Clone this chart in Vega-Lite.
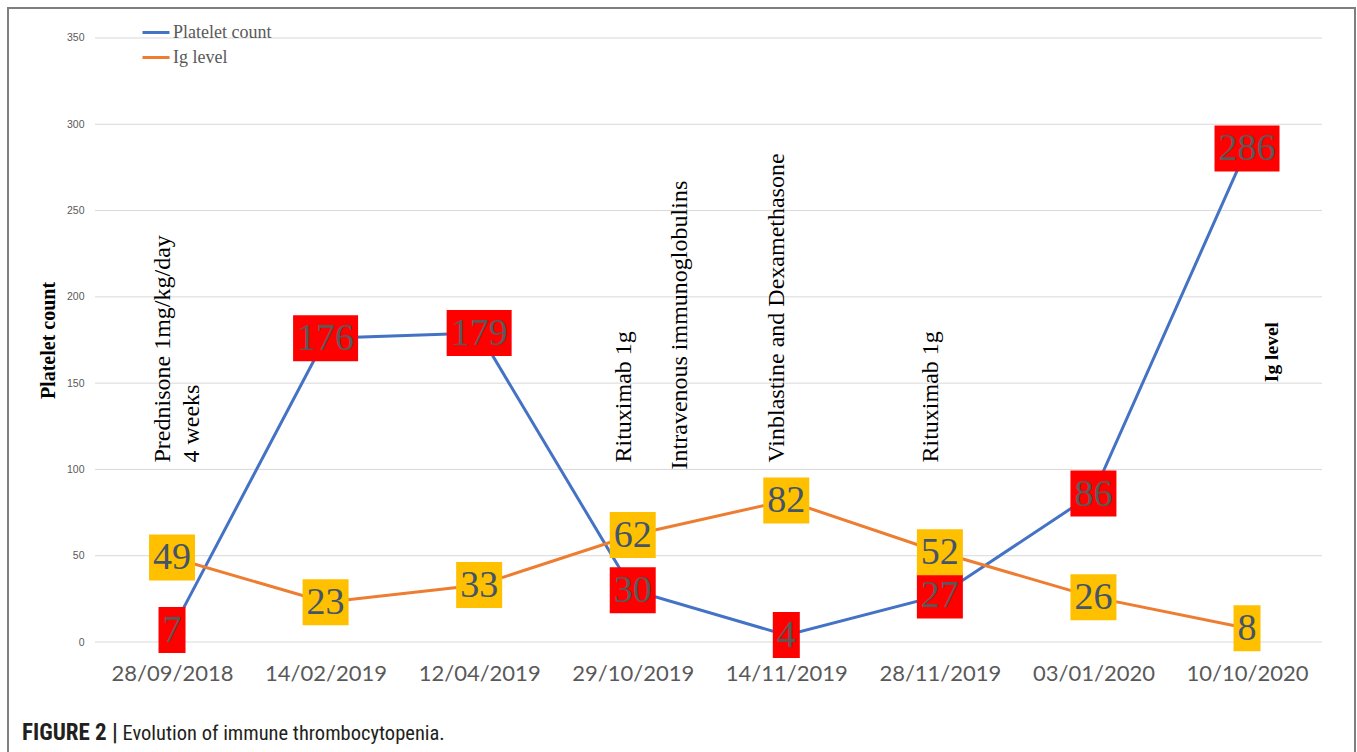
{
  "$schema": "https://vega.github.io/schema/vega-lite/v6.json",
  "width": 1347,
  "height": 760,
  "autosize": {"type": "none"},
  "padding": {"left": 8, "top": 8, "right": 2, "bottom": 0},
  "background": "white",
  "title": {
    "text": "FIGURE 2 |",
    "orient": "bottom",
    "anchor": "start",
    "frame": "group",
    "font": "Liberation Sans Narrow, Arial Narrow, Roboto Condensed, Liberation Sans",
    "fontSize": 23,
    "fontWeight": "bold",
    "color": "#231f20",
    "offset": 0,
    "baseline": "alphabetic",
    "dx": 14,
    "dy": -28.5
  },
  "datasets": {
    "series": [
      {"date": "28/09/2018", "series": "Platelet count", "value": 7},
      {"date": "14/02/2019", "series": "Platelet count", "value": 176},
      {"date": "12/04/2019", "series": "Platelet count", "value": 179},
      {"date": "29/10/2019", "series": "Platelet count", "value": 30},
      {"date": "14/11/2019", "series": "Platelet count", "value": 4},
      {"date": "28/11/2019", "series": "Platelet count", "value": 27},
      {"date": "03/01/2020", "series": "Platelet count", "value": 86},
      {"date": "10/10/2020", "series": "Platelet count", "value": 286},
      {"date": "28/09/2018", "series": "Ig level", "value": 49},
      {"date": "14/02/2019", "series": "Ig level", "value": 23},
      {"date": "12/04/2019", "series": "Ig level", "value": 33},
      {"date": "29/10/2019", "series": "Ig level", "value": 62},
      {"date": "14/11/2019", "series": "Ig level", "value": 82},
      {"date": "28/11/2019", "series": "Ig level", "value": 52},
      {"date": "03/01/2020", "series": "Ig level", "value": 26},
      {"date": "10/10/2020", "series": "Ig level", "value": 8}
    ],
    "notes": [
      {"date": "28/09/2018", "note": "Prednisone 1mg/kg/day\n4 weeks"},
      {"date": "29/10/2019", "note": "Rituximab 1g"},
      {"date": "14/11/2019", "note": "Vinblastine and Dexamethasone"},
      {"date": "28/11/2019", "note": "Rituximab 1g"}
    ],
    "notes2": [
      {"date": "29/10/2019", "note": "Intravenous immunoglobulins"}
    ],
    "axisnote": [
      {"date": "10/10/2020", "note": "Ig level"}
    ],
    "grid": [
      {"tick": 0}, {"tick": 50}, {"tick": 100}, {"tick": 150},
      {"tick": 200}, {"tick": 250}, {"tick": 300}, {"tick": 350}
    ]
  },
  "layer": [
    {
      "data": {"name": "grid"},
      "mark": {"type": "rule", "color": "#d9d9d9", "strokeWidth": 1, "xOffset": -77, "x2Offset": 75},
      "encoding": {
        "x": {"datum": "28/09/2018", "type": "ordinal",
          "scale": {"type": "point", "domain": ["28/09/2018", "14/02/2019", "12/04/2019", "29/10/2019", "14/11/2019", "28/11/2019", "03/01/2020", "10/10/2020"], "padding": 0.8856, "align": 0.603}},
        "x2": {"datum": "10/10/2020"},
        "y": {"field": "tick", "type": "quantitative",
          "scale": {"domain": [-73.01, 367.38], "nice": false, "zero": false},
          "axis": {
            "values": [0, 50, 100, 150, 200, 250, 300, 350],
            "orient": "left", "offset": -87,
            "domain": false, "ticks": false, "grid": false,
            "labelFont": "Liberation Sans", "labelFontSize": 10.5, "labelColor": "#595959", "labelPadding": 11,
            "title": "Platelet count",
            "titleFont": "Liberation Serif", "titleFontSize": 20, "titleFontWeight": "bold", "titleColor": "#000000",
            "titleX": -47, "titleY": 332, "titleAngle": 270, "titleBaseline": "middle", "titleAlign": "center"
          }}
      }
    },
    {
      "data": {"name": "notes"},
      "mark": {"type": "text", "angle": 270, "align": "left", "baseline": "top", "font": "Liberation Serif", "fontSize": 24, "color": "#000000", "lineBreak": "\n", "lineHeight": 28.5, "xOffset": -21},
      "encoding": {
        "x": {"field": "date", "type": "ordinal",
          "scale": {"type": "point", "domain": ["28/09/2018", "14/02/2019", "12/04/2019", "29/10/2019", "14/11/2019", "28/11/2019", "03/01/2020", "10/10/2020"], "padding": 0.8856, "align": 0.603}},
        "y": {"datum": 104, "type": "quantitative", "scale": {"domain": [-73.01, 367.38], "nice": false, "zero": false}},
        "text": {"field": "note", "type": "nominal"}
      }
    },
    {
      "data": {"name": "notes2"},
      "mark": {"type": "text", "angle": 270, "align": "left", "baseline": "top", "font": "Liberation Serif", "fontSize": 24, "color": "#000000", "xOffset": 35},
      "encoding": {
        "x": {"field": "date", "type": "ordinal",
          "scale": {"type": "point", "domain": ["28/09/2018", "14/02/2019", "12/04/2019", "29/10/2019", "14/11/2019", "28/11/2019", "03/01/2020", "10/10/2020"], "padding": 0.8856, "align": 0.603}},
        "y": {"datum": 100, "type": "quantitative", "scale": {"domain": [-73.01, 367.38], "nice": false, "zero": false}},
        "text": {"field": "note", "type": "nominal"}
      }
    },
    {
      "data": {"name": "axisnote"},
      "mark": {"type": "text", "angle": 270, "align": "center", "baseline": "middle", "font": "Liberation Serif", "fontSize": 19.5, "fontWeight": "bold", "color": "#000000", "xOffset": 25},
      "encoding": {
        "x": {"field": "date", "type": "ordinal",
          "scale": {"type": "point", "domain": ["28/09/2018", "14/02/2019", "12/04/2019", "29/10/2019", "14/11/2019", "28/11/2019", "03/01/2020", "10/10/2020"], "padding": 0.8856, "align": 0.603}},
        "y": {"datum": 168, "type": "quantitative", "scale": {"domain": [-73.01, 367.38], "nice": false, "zero": false}},
        "text": {"field": "note", "type": "nominal"}
      }
    },
    {
      "data": {"name": "series"},
      "mark": {"type": "line", "strokeWidth": 3},
      "encoding": {
        "x": {"field": "date", "type": "ordinal", "sort": null,
          "scale": {"type": "point", "domain": ["28/09/2018", "14/02/2019", "12/04/2019", "29/10/2019", "14/11/2019", "28/11/2019", "03/01/2020", "10/10/2020"], "padding": 0.8856, "align": 0.603},
          "axis": {
            "orient": "bottom", "offset": -118,
            "domain": false, "ticks": false, "grid": false,
            "labelFont": "Lato", "labelFontSize": 22, "labelColor": "#595959", "labelPadding": 13, "labelAngle": 0,
            "labelAlign": "center", "labelBaseline": "top",
            "labelOverlap": false, "labelFlush": false,
            "title": "Evolution of immune thrombocytopenia.",
            "titleFont": "Liberation Sans Narrow, Arial Narrow, Roboto Condensed, Liberation Sans",
            "titleFontSize": 20.5, "titleFontWeight": "normal", "titleColor": "#231f20",
            "titleX": 114, "titleY": 89.5, "titleAlign": "left", "titleBaseline": "alphabetic"
          }},
        "y": {"field": "value", "type": "quantitative", "scale": {"domain": [-73.01, 367.38], "nice": false, "zero": false}},
        "color": {"field": "series", "type": "nominal",
          "scale": {"domain": ["Platelet count", "Ig level"], "range": ["#4472C4", "#ED7D31"]},
          "legend": {
            "orient": "none", "legendX": 133, "legendY": 9.5, "direction": "vertical",
            "title": null, "padding": 0,
            "symbolType": "stroke", "symbolStrokeWidth": 3, "symbolSize": 729,
            "labelFont": "Liberation Serif", "labelFontSize": 18, "labelColor": "#595959", "labelOffset": 2,
            "rowPadding": 1
          }}
      }
    },
    {
      "data": {"name": "series"},
      "mark": {"type": "point", "filled": true, "size": 2116, "opacity": 1, "strokeWidth": 0},
      "encoding": {
        "x": {"field": "date", "type": "ordinal",
          "scale": {"type": "point", "domain": ["28/09/2018", "14/02/2019", "12/04/2019", "29/10/2019", "14/11/2019", "28/11/2019", "03/01/2020", "10/10/2020"], "padding": 0.8856, "align": 0.603}},
        "y": {"field": "value", "type": "quantitative", "scale": {"domain": [-73.01, 367.38], "nice": false, "zero": false}},
        "shape": {
          "condition": [
            {"test": "datum.value >= 100", "value": "M-1.413,-1H1.413V1H-1.413Z"},
            {"test": "datum.value < 10", "value": "M-0.587,-1H0.587V1H-0.587Z"}
          ],
          "value": "M-1,-1H1V1H-1Z"
        },
        "color": {
          "condition": {"test": "datum.series === 'Platelet count'", "value": "#FF0000"},
          "value": "#FFC000"
        }
      }
    },
    {
      "data": {"name": "series"},
      "mark": {"type": "text", "font": "Liberation Serif", "fontSize": 38, "align": "center", "baseline": "middle", "dy": 1},
      "encoding": {
        "x": {"field": "date", "type": "ordinal",
          "scale": {"type": "point", "domain": ["28/09/2018", "14/02/2019", "12/04/2019", "29/10/2019", "14/11/2019", "28/11/2019", "03/01/2020", "10/10/2020"], "padding": 0.8856, "align": 0.603}},
        "y": {"field": "value", "type": "quantitative", "scale": {"domain": [-73.01, 367.38], "nice": false, "zero": false}},
        "text": {"field": "value", "type": "quantitative"},
        "color": {
          "condition": {"test": "datum.series === 'Platelet count'", "value": "#595959"},
          "value": "#44546A"
        }
      }
    }
  ],
  "config": {
    "view": {"stroke": "#7f7f7f", "strokeWidth": 2}
  }
}
